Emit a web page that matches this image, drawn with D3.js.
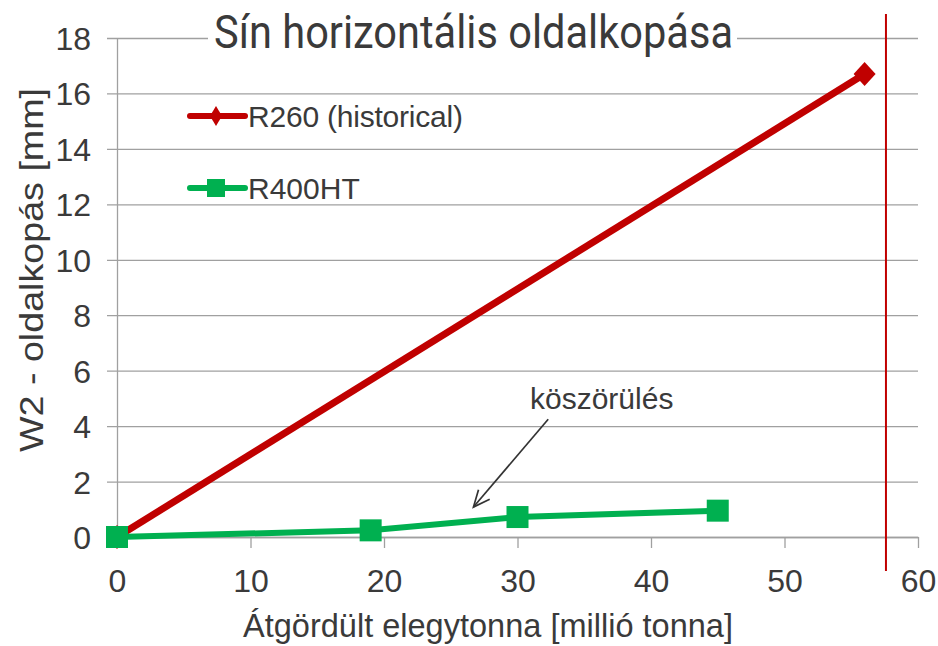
<!DOCTYPE html>
<html>
<head>
<meta charset="utf-8">
<script src="https://cdn.jsdelivr.net/npm/d3@7"></script>
<style>
  body { margin: 0; background: #fff; }
  svg { display: block; }
  text { font-family: "Liberation Sans", Arial, sans-serif; fill: #3a3a3a; }
</style>
</head>
<body>
<div class="chart"></div>
<script>
// Chart data
const xTicks = [0, 10, 20, 30, 40, 50, 60];
const yTicks = [0, 2, 4, 6, 8, 10, 12, 14, 16, 18];
const seriesNames = ['R260 (historical)', 'R400HT'];
const r260X = [0, 56];
const r260Y = [0, 16.7];
const r400X = [0, 19, 30, 45];
const r400Y = [0, 0.24, 0.72, 0.95];
const limitX = 57.6;
const noteLabel = 'köszörülés';
const noteFrom = [32.3, 4.25];
const noteTo = [26.7, 1.08];

const WIDTH = 938, HEIGHT = 646;
const PLOT = { left: 117, right: 918, top: 38, bottom: 537 };
const RED = '#c00000', GREEN = '#00b050', GRID = '#a0a0a0';

const x = d3.scaleLinear().domain([0, 60]).range([PLOT.left, PLOT.right]);
const y = d3.scaleLinear().domain([0, 18]).range([PLOT.bottom, PLOT.top]);

const svg = d3.select('.chart').append('svg')
  .attr('width', WIDTH)
  .attr('height', HEIGHT);

// gridlines + y axis
const yAxis = d3.axisLeft(y)
  .tickValues(yTicks)
  .tickSizeInner(-(PLOT.right - PLOT.left))
  .tickSizeOuter(0)
  .tickFormat(d3.format('d'));

const gy = svg.append('g')
  .attr('transform', `translate(${PLOT.left},0)`)
  .call(yAxis);
gy.select('.domain').attr('stroke', GRID).attr('stroke-width', 1.3);
gy.selectAll('.tick line')
  .attr('x1', -10)
  .attr('stroke', GRID)
  .attr('stroke-width', 1.3);
gy.selectAll('.tick text')
  .attr('x', 91 - PLOT.left)
  .attr('dy', '0.36em')
  .style('font-size', '32px')
  .style('font-family', '"Liberation Sans", Arial, sans-serif')
  .attr('fill', '#3a3a3a');

// x axis
const xAxis = d3.axisBottom(x)
  .tickValues(xTicks)
  .tickSizeInner(11)
  .tickSizeOuter(0)
  .tickPadding(21);

const gx = svg.append('g')
  .attr('transform', `translate(0,${PLOT.bottom})`)
  .call(xAxis);
gx.select('.domain').attr('stroke', GRID).attr('stroke-width', 1.3);
gx.selectAll('.tick line').attr('stroke', GRID).attr('stroke-width', 1.3);
gx.selectAll('.tick text')
  .attr('dy', '0.71em')
  .style('font-size', '32px')
  .style('font-family', '"Liberation Sans", Arial, sans-serif')
  .attr('fill', '#3a3a3a');

// title with white box over the top gridline
svg.append('rect')
  .attr('x', 208).attr('y', 0)
  .attr('width', 529).attr('height', 62)
  .attr('fill', '#fff');
svg.append('text')
  .attr('x', 214)
  .attr('y', 48)
  .attr('textLength', 519)
  .attr('lengthAdjust', 'spacingAndGlyphs')
  .style('font-family', 'Roboto, "Liberation Sans", sans-serif')
  .style('font-size', '46px')
  .text('Sín horizontális oldalkopása');

// limit line
svg.append('line')
  .attr('x1', x(limitX)).attr('x2', x(limitX))
  .attr('y1', 14).attr('y2', 571)
  .attr('stroke', RED)
  .attr('stroke-width', 2);

const line = d3.line().x(d => x(d[0])).y(d => y(d[1]));

const diamond = (cx, cy, w, h) =>
  `M${cx},${cy - h}L${cx + w},${cy}L${cx},${cy + h}L${cx - w},${cy}Z`;

// R260
const r260 = r260X.map((v, i) => [v, r260Y[i]]);
svg.append('path')
  .datum(r260)
  .attr('d', line)
  .attr('fill', 'none')
  .attr('stroke', RED)
  .attr('stroke-width', 7);
svg.append('g').selectAll('path')
  .data(r260)
  .join('path')
  .attr('d', d => diamond(x(d[0]), y(d[1]), 11, 12))
  .attr('fill', RED);

// R400HT
const r400 = r400X.map((v, i) => [v, r400Y[i]]);
svg.append('path')
  .datum(r400)
  .attr('d', line)
  .attr('fill', 'none')
  .attr('stroke', GREEN)
  .attr('stroke-width', 6);
svg.append('g').selectAll('rect')
  .data(r400)
  .join('rect')
  .attr('x', d => x(d[0]) - 11)
  .attr('y', d => y(d[1]) - 11)
  .attr('width', 22)
  .attr('height', 22)
  .attr('fill', GREEN);

// annotation arrow
const ax1 = x(noteFrom[0]), ay1 = y(noteFrom[1]);
const ax2 = x(noteTo[0]), ay2 = y(noteTo[1]);
const ang = Math.atan2(ay2 - ay1, ax2 - ax1);
const headLen = 18, headAng = 0.42;
svg.append('line')
  .attr('x1', ax1).attr('y1', ay1)
  .attr('x2', ax2).attr('y2', ay2)
  .attr('stroke', '#333')
  .attr('stroke-width', 1.7);
svg.append('path')
  .attr('d', `M${ax2 - headLen * Math.cos(ang - headAng)},${ay2 - headLen * Math.sin(ang - headAng)}` +
    `L${ax2},${ay2}` +
    `L${ax2 - headLen * Math.cos(ang + headAng)},${ay2 - headLen * Math.sin(ang + headAng)}`)
  .attr('fill', 'none')
  .attr('stroke', '#333')
  .attr('stroke-width', 1.7);
svg.append('text')
  .attr('x', 530)
  .attr('y', 409)
  .style('font-size', '30px')
  .text(noteLabel);

// legend
const legend = svg.append('g');
const legendRows = [
  { name: seriesNames[0], color: RED, y: 116, marker: 'diamond' },
  { name: seriesNames[1], color: GREEN, y: 188, marker: 'square' }
];
legendRows.forEach(r => {
  legend.append('line')
    .attr('x1', 190).attr('x2', 245)
    .attr('y1', r.y).attr('y2', r.y)
    .attr('stroke', r.color)
    .attr('stroke-width', 6)
    .attr('stroke-linecap', 'round');
  if (r.marker === 'diamond') {
    legend.append('path').attr('d', diamond(216, r.y, 6, 10)).attr('fill', r.color);
  } else {
    legend.append('rect')
      .attr('x', 207).attr('y', r.y - 9)
      .attr('width', 18).attr('height', 18)
      .attr('fill', r.color);
  }
  legend.append('text')
    .attr('x', 248)
    .attr('y', r.y + 11)
    .attr('textLength', r.marker === 'diamond' ? 215 : null)
    .style('font-size', '30px')
    .text(r.name);
});

// axis titles
svg.append('text')
  .attr('x', 488)
  .attr('y', 637)
  .attr('text-anchor', 'middle')
  .attr('textLength', 490)
  .attr('lengthAdjust', 'spacingAndGlyphs')
  .style('font-size', '33px')
  .text('Átgördült elegytonna [millió tonna]');

svg.append('text')
  .attr('transform', 'translate(43,270) rotate(-90)')
  .attr('text-anchor', 'middle')
  .attr('textLength', 364)
  .attr('lengthAdjust', 'spacingAndGlyphs')
  .style('font-size', '34px')
  .text('W2 - oldalkopás [mm]');
</script>
</body>
</html>
